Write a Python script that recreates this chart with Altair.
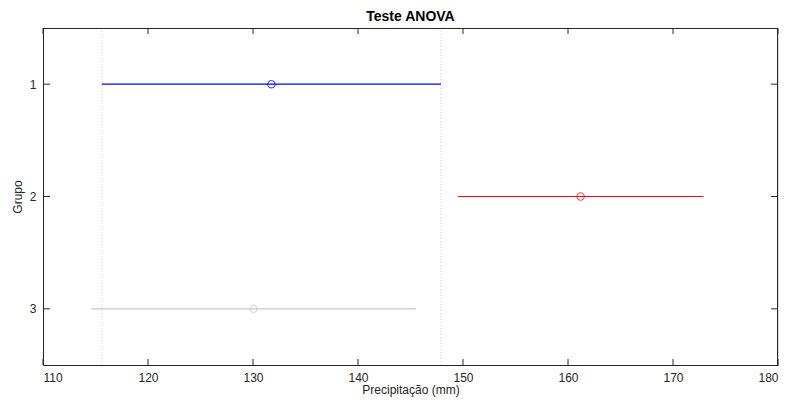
import altair as alt
import pandas as pd

groups = [1, 2, 3]
lower = [115.6, 149.5, 114.6]
means = [131.75, 161.2, 130.05]
upper = [147.9, 172.9, 145.5]
colors = ["#0000FF", "#FF0000", "#C8C8C8"]
x_ticks = [110, 120, 130, 140, 150, 160, 170, 180]
y_ticks = [1, 2, 3]
ref_lines = [115.6, 147.9]

W, H = 735, 337
AX = "#262626"
FONT = "Liberation Sans"

df = pd.DataFrame({"g": groups, "lo": lower, "m": means, "hi": upper, "c": colors})
xs = alt.Scale(domain=[110, 180], nice=False, zero=False)
ys = alt.Scale(domain=[0.5, 3.5], reverse=True, nice=False, zero=False)

xaxis = alt.Axis(values=x_ticks, ticks=False, domain=True, domainColor=AX, domainWidth=1,
                 grid=False, labelPadding=7, format="d",
                 labelFontSize=12, labelColor=AX, labelFont=FONT, title="Precipitação (mm)",
                 titleFontSize=12, titleFontWeight="normal", titleColor=AX, titleFont=FONT, titlePadding=1)
yaxis = alt.Axis(values=y_ticks, ticks=False, domain=True, domainColor=AX, domainWidth=1,
                 grid=False, labelPadding=7, format="d",
                 labelFontSize=12, labelColor=AX, labelFont=FONT, title="Grupo",
                 titleFontSize=12, titleFontWeight="normal", titleColor=AX, titleFont=FONT, titlePadding=5)

refs = alt.Chart(pd.DataFrame({"x": ref_lines})).mark_rule(
    color="#D0D0D0", strokeDash=[1, 2], strokeWidth=1
).encode(x=alt.X("x:Q", scale=xs, axis=xaxis), y=alt.value(0), y2=alt.value(H))

bars = alt.Chart(df).mark_rule(strokeWidth=1.2).encode(
    x=alt.X("lo:Q", scale=xs, axis=xaxis), x2="hi:Q",
    y=alt.Y("g:Q", scale=ys, axis=yaxis),
    color=alt.Color("c:N", scale=None),
)
pts = alt.Chart(df).mark_point(shape="circle", filled=False, size=55, strokeWidth=1.1).encode(
    x=alt.X("m:Q", scale=xs), y=alt.Y("g:Q", scale=ys),
    color=alt.Color("c:N", scale=None),
)

xt = pd.DataFrame({"x": x_ticks})
yt = pd.DataFrame({"y": y_ticks})
xb = alt.Chart(xt).mark_rule(color=AX).encode(x=alt.X("x:Q", scale=xs), y=alt.value(H), y2=alt.value(H - 6))
xtp = alt.Chart(xt).mark_rule(color=AX).encode(x=alt.X("x:Q", scale=xs), y=alt.value(0), y2=alt.value(6))
yl = alt.Chart(yt).mark_rule(color=AX).encode(y=alt.Y("y:Q", scale=ys), x=alt.value(0), x2=alt.value(7))
yr = alt.Chart(yt).mark_rule(color=AX).encode(y=alt.Y("y:Q", scale=ys), x=alt.value(W), x2=alt.value(W - 7))
top = alt.Chart(xt).mark_rule(color=AX, strokeWidth=1).encode(x=alt.value(0), x2=alt.value(W), y=alt.value(0.5))
right = alt.Chart(xt).mark_rule(color=AX, strokeWidth=1).encode(y=alt.value(0), y2=alt.value(H), x=alt.value(W - 0.5))

chart = alt.layer(refs, bars, pts, xb, xtp, yl, yr, top, right).properties(
    width=W, height=H,
    title=alt.TitleParams("Teste ANOVA", fontSize=14, fontWeight="bold", color="#000000",
                          font=FONT, anchor="middle", offset=4),
    autosize=alt.AutoSizeParams(type="none"),
    padding={"left": 35, "top": 20, "right": 2, "bottom": 40},
).configure_view(strokeWidth=0).configure(background="white")

chart.save("out.html", embed_options={"renderer": "svg", "actions": False})
